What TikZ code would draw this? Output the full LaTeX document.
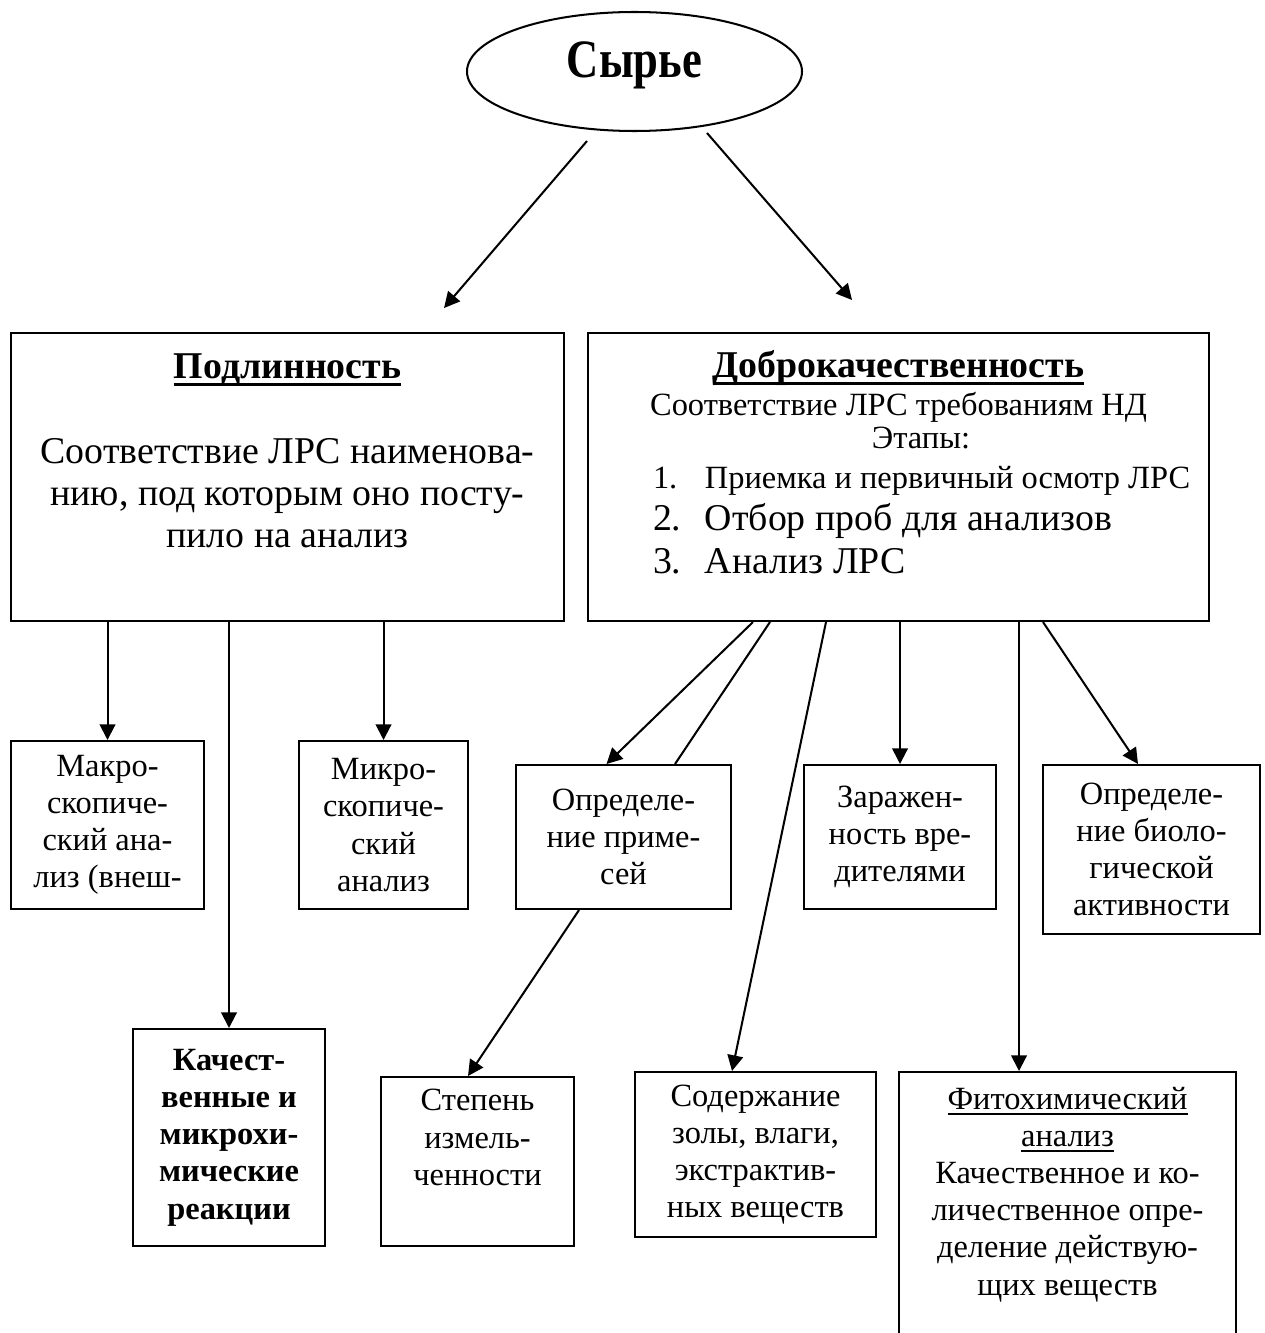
\documentclass[tikz,border=0pt]{standalone}
\usepackage{fontspec}
\usepackage{graphicx}
\setmainfont{Liberation Serif}
\usetikzlibrary{arrows.meta,positioning,calc,shapes.geometric}
\def\pxu{0.37pt}
\newcommand{\szbig}{\fontsize{16pt}{18pt}\selectfont}
\newcommand{\szbody}{\fontsize{14pt}{15.7pt}\selectfont}
\newcommand{\szsmall}{\fontsize{12pt}{13.75pt}\selectfont}
\newcommand{\ulbold}[1]{\setbox0=\hbox{#1}\rlap{\rule[-2.95pt]{\wd0}{1.1pt}}\box0}
\newcommand{\ulthin}[1]{\setbox0=\hbox{#1}\rlap{\rule[-2.1pt]{\wd0}{0.6pt}}\box0}

\begin{document}
\begin{tikzpicture}[x=0.37pt, y=-0.37pt, line width=0.75pt,
    >={Triangle[length=5.8pt,width=5.8pt]},
    box/.style={draw, anchor=north west, inner sep=0pt, align=center, font=\szsmall},
    bigbox/.style={draw, anchor=north west, inner sep=0pt},
    txt/.style={inner sep=0pt}]
\useasboundingbox (0,0) rectangle (1264,1333);
\clip (0,0) rectangle (1264,1333);

% raw material
\node[draw, ellipse, minimum width=335*\pxu, minimum height=119*\pxu, inner sep=0pt,
    text depth=8.9pt, font=\szbig\bfseries] (syr) at (634.5,71.5) {\scalebox{1.03}[1.25]{Сырье}};

% two main branches
\node[bigbox, minimum width=553*\pxu, minimum height=288*\pxu] (podl) at (10,332) {};
\node[bigbox, minimum width=621*\pxu, minimum height=288*\pxu] (dobr) at (587,332) {};

\coordinate (sl) at ($(syr.south)+(-47.5,9)$);
\coordinate (el) at ($(podl.north)+(156.5,-24)$);
\coordinate (sr) at ($(syr.south)+(72.5,1)$);
\coordinate (er) at ($(dobr.north)+(-46.5,-32)$);
\draw[->] (sl) -- (el);
\draw[->] (sr) -- (er);

% authenticity text
\node[txt, anchor=base, font=\szbody\bfseries] (podltitle) at ($(podl.north)+(0,46)$)
    {\ulbold{Подлинность}};
\node[txt, anchor=north, align=center, font=\szbody] (podltext) at ($(podl.north)+(0,105)$)
    {Соответствие ЛРС наименова-\\нию, под которым оно посту-\\пило на анализ};

% quality text
\node[txt, anchor=base, font=\szbody\bfseries] (dobrtitle) at ($(dobr.north)+(0,45)$)
    {\ulbold{Доброкачественность}};
\node[txt, anchor=base, font=\szsmall] (dobrsub) at ($(dobr.north)+(0,83)$)
    {Соответствие ЛРС требованиям НД};
\node[txt, anchor=base, font=\szsmall] (etapy) at ($(dobr.north)+(22.5,116)$) {Этапы:};
\node[txt, anchor=base west, font=\szsmall] (etap1) at ($(dobr.north west)+(65,156)$)
    {\makebox[19.2pt][l]{1.}Приемка и первичный осмотр ЛРС};
\node[txt, anchor=base west, font=\szbody] (etap2) at ($(dobr.north west)+(65,198)$)
    {\makebox[19.2pt][l]{2.}Отбор проб для анализов};
\node[txt, anchor=base west, font=\szbody] (etap3) at ($(dobr.north west)+(65,241)$)
    {\makebox[19.2pt][l]{3.}Анализ ЛРС};

% authenticity children
\node[box, minimum width=193*\pxu, minimum height=168*\pxu] (makro) at (10,740)
    {Макро-\\скопиче-\\ский ана-\\лиз (внеш-};
\node[box, minimum width=169*\pxu, minimum height=168*\pxu] (mikro) at (298,740)
    {Микро-\\скопиче-\\ский\\анализ};
\node[box, minimum width=192*\pxu, minimum height=217*\pxu, font=\szsmall\bfseries] (kach) at (132,1028)
    {Качест-\\венные и\\микрохи-\\мические\\реакции};
\draw[->] (makro.north |- podl.south) -- (makro.north);
\draw[->] (kach.north |- podl.south) -- (kach.north);
\draw[->] (mikro.north |- podl.south) -- (mikro.north);

% quality children
\node[box, minimum width=215*\pxu, minimum height=144*\pxu] (prim) at (515,764)
    {Определе-\\ние приме-\\сей};
\node[box, minimum width=192*\pxu, minimum height=144*\pxu] (zar) at (803,764)
    {Заражен-\\ность вре-\\дителями};
\node[box, minimum width=217*\pxu, minimum height=169*\pxu] (biol) at (1042,764)
    {Определе-\\ние биоло-\\гической\\активности};
\node[box, minimum width=193*\pxu, minimum height=169*\pxu] (stepen) at (380,1076)
    {Степень\\измель-\\ченности\\\strut};
\node[box, minimum width=241*\pxu, minimum height=165*\pxu] (sod) at (634,1071)
    {Содержание\\золы, влаги,\\экстрактив-\\ных веществ};
\node[bigbox, minimum width=337*\pxu, minimum height=300*\pxu] (fito) at (898,1071) {};
\node[txt, anchor=north, align=center, font=\szsmall] (fitotext) at ($(fito.north)+(0,15)$)
    {\ulthin{Фитохимический}\\\ulthin{анализ}\\Качественное и ко-\\личественное опре-\\деление действую-\\щих веществ};

\coordinate (fitoin) at ($(fito.north)+(-48.5,0)$);
\draw[->] ($(dobr.south west)+(166,0)$) -- ($(prim.north)+(-17,0)$);
\draw ($(dobr.south west)+(183,0)$) -- ($(prim.north)+(51.5,0)$);
\draw[->] ($(dobr.south west)+(239,0)$) -- ($(sod.north)+(-23.5,0)$);
\draw[->] (zar.north |- dobr.south) -- (zar.north);
\draw[->] (fitoin |- dobr.south) -- (fitoin);
\draw[->] ($(dobr.south west)+(456,0)$) -- ($(biol.north)+(-13.5,0)$);
\draw[->] ($(prim.south)+(-44.5,0)$) -- ($(stepen.north)+(-9.5,0)$);
\end{tikzpicture}
\end{document}
